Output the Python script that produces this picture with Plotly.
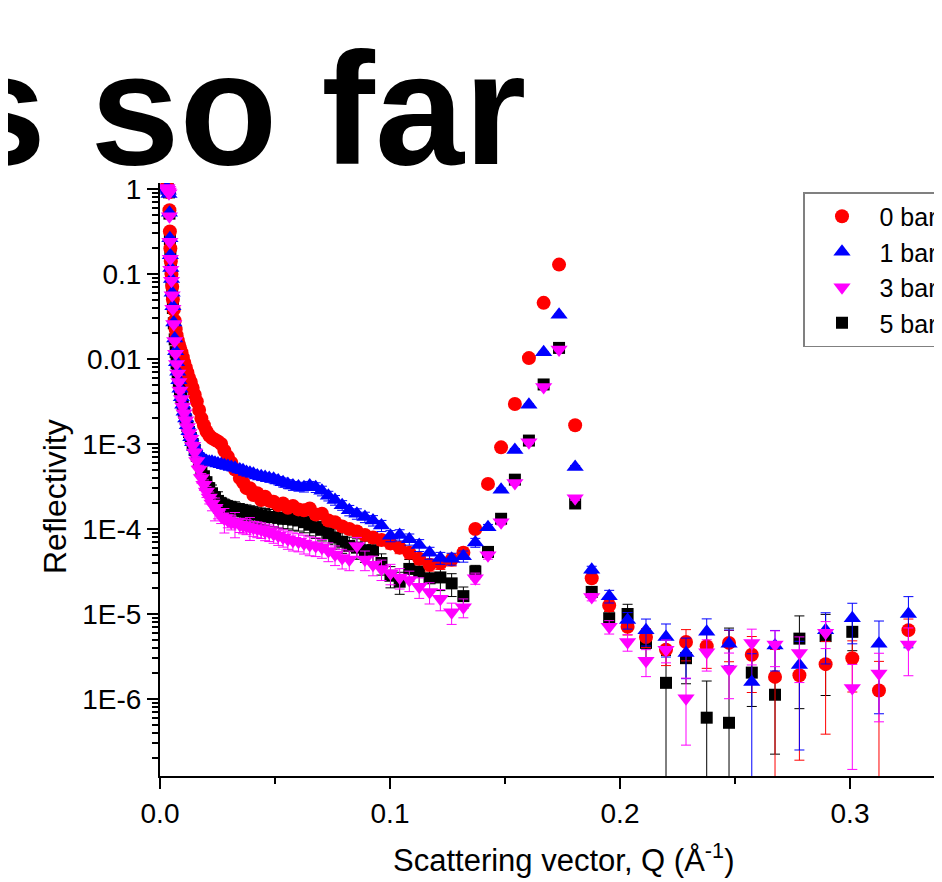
import numpy as np
import plotly.graph_objects as go

# Scattering vector Q (1/Angstrom), shared by all series
q = [0.0030, 0.0033, 0.0036, 0.0039, 0.0041, 0.0043, 0.0045, 0.0047, 0.0050, 0.0053,
     0.0056, 0.0060, 0.0064, 0.0068, 0.0072, 0.0077, 0.0082, 0.0087, 0.0093, 0.0099,
     0.0105, 0.0112, 0.0119, 0.0126, 0.0134, 0.0142, 0.0151, 0.0160, 0.0170, 0.0180,
     0.0191, 0.0202, 0.0214, 0.0226, 0.0239, 0.0252, 0.0266, 0.0280, 0.0295, 0.0310,
     0.0326, 0.0347, 0.0361, 0.0376, 0.0391, 0.0406, 0.0423, 0.0440, 0.0457, 0.0475,
     0.0494, 0.0514, 0.0535, 0.0556, 0.0578, 0.0602, 0.0626, 0.0651, 0.0677, 0.0704,
     0.0732, 0.0761, 0.0792, 0.0823, 0.0856, 0.0891, 0.0926, 0.0963, 0.1002, 0.1042,
     0.1084, 0.1127, 0.1172, 0.1219, 0.1268, 0.1319, 0.1371, 0.1426, 0.1483, 0.1543,
     0.1604, 0.1668, 0.1735, 0.1805, 0.1877, 0.1953, 0.2033, 0.2113, 0.2200, 0.2287,
     0.2377, 0.2474, 0.2573, 0.2674, 0.2780, 0.2894, 0.3010, 0.3126, 0.3254]

# log10(Reflectivity)
log_r_0bar = [0.03, 0.01, -0.01, -0.04, -0.25, -0.50, -0.70, -0.85, -1.00, -1.15,
              -1.30, -1.42, -1.55, -1.65, -1.72, -1.78, -1.83, -1.87, -1.92, -1.98,
              -2.04, -2.10, -2.16, -2.22, -2.27, -2.34, -2.42, -2.50, -2.60, -2.70,
              -2.78, -2.85, -2.90, -2.93, -2.95, -2.97, -3.00, -3.08, -3.15, -3.22,
              -3.30, -3.40, -3.45, -3.52, -3.52, -3.60, -3.58, -3.66, -3.62, -3.67,
              -3.68, -3.72, -3.70, -3.75, -3.73, -3.77, -3.78, -3.76, -3.83, -3.82,
              -3.90, -3.92, -3.97, -4.00, -4.03, -4.07, -4.10, -4.13, -4.17, -4.22,
              -4.28, -4.35, -4.42, -4.40, -4.36, -4.28, -4.00, -3.47, -3.04, -2.53,
              -1.99, -1.34, -0.89, -2.78, -4.58, -4.90, -5.15, -5.27, -5.42, -5.33,
              -5.38, -5.34, -5.48, -5.74, -5.72, -5.59, -5.52, -5.90, -5.19]
log_r_1bar = [0.02, 0.00, -0.02, -0.06, -0.28, -0.58, -0.78, -0.93, -1.06, -1.22,
              -1.38, -1.57, -1.76, -1.91, -2.04, -2.15, -2.25, -2.35, -2.45, -2.54,
              -2.62, -2.70, -2.78, -2.85, -2.92, -2.98, -3.04, -3.09, -3.13, -3.16,
              -3.18, -3.20, -3.21, -3.21, -3.22, -3.23, -3.24, -3.25, -3.26, -3.27,
              -3.28, -3.30, -3.31, -3.33, -3.34, -3.35, -3.37, -3.38, -3.39, -3.40,
              -3.41, -3.43, -3.45, -3.47, -3.49, -3.50, -3.51, -3.49, -3.51, -3.55,
              -3.61, -3.66, -3.72, -3.78, -3.82, -3.86, -3.90, -3.96, -4.08, -4.07,
              -4.12, -4.19, -4.28, -4.34, -4.35, -4.32, -4.16, -3.98, -3.54, -3.07,
              -2.54, -1.92, -1.48, -3.27, -4.48, -4.79, -5.07, -5.19, -5.27, -5.46,
              -5.21, -5.35, -5.80, -5.37, -5.60, -5.19, -5.05, -5.35, -5.00]
log_r_3bar = [0.01, -0.01, -0.03, -0.05, -0.32, -0.62, -0.82, -0.95, -1.08, -1.25,
              -1.41, -1.59, -1.79, -1.94, -2.06, -2.17, -2.27, -2.37, -2.47, -2.56,
              -2.64, -2.72, -2.80, -2.87, -2.94, -3.02, -3.10, -3.20, -3.30, -3.40,
              -3.48, -3.56, -3.63, -3.70, -3.75, -3.80, -3.85, -3.88, -3.90, -3.92,
              -3.93, -3.95, -3.96, -3.97, -3.98, -3.99, -4.00, -4.01, -4.03, -4.04,
              -4.06, -4.08, -4.10, -4.12, -4.14, -4.15, -4.17, -4.19, -4.20, -4.22,
              -4.26, -4.30, -4.34, -4.36, -4.20, -4.36, -4.42, -4.47, -4.52, -4.57,
              -4.60, -4.68, -4.74, -4.82, -4.98, -4.92, -4.58, -4.31, -3.92, -3.46,
              -2.98, -2.33, -1.89, -3.64, -4.80, -5.15, -5.33, -5.55, -5.42, -5.99,
              -5.45, -5.65, -5.34, -5.36, -5.46, -5.22, -5.87, -5.70, -5.36]
log_r_5bar = [0.02, 0.00, -0.02, -0.04, -0.29, -0.59, -0.79, -0.94, -1.07, -1.23,
              -1.40, -1.58, -1.77, -1.92, -2.05, -2.16, -2.26, -2.36, -2.46, -2.55,
              -2.63, -2.71, -2.79, -2.86, -2.93, -3.00, -3.07, -3.14, -3.22, -3.30,
              -3.38, -3.45, -3.52, -3.58, -3.63, -3.67, -3.70, -3.72, -3.74, -3.75,
              -3.76, -3.78, -3.79, -3.80, -3.81, -3.82, -3.83, -3.84, -3.85, -3.86,
              -3.86, -3.87, -3.88, -3.88, -3.89, -3.90, -3.92, -3.95, -3.98, -4.01,
              -4.05, -4.10, -4.15, -4.20, -4.22, -4.25, -4.25, -4.40, -4.55, -4.62,
              -4.47, -4.50, -4.58, -4.57, -4.64, -4.79, -4.50, -4.27, -3.88, -3.42,
              -2.96, -2.30, -1.87, -3.70, -4.74, -5.05, -5.00, -5.34, -5.81, -5.52,
              -6.22, -6.28, -5.69, -5.95, -5.29, -5.26, -5.21, None, None]

# relative errors (fraction of R)
rel_err_0bar = [0.03, 0.03, 0.03, 0.03, 0.03, 0.03, 0.03, 0.03, 0.03, 0.03,
                0.03, 0.03, 0.03, 0.03, 0.04, 0.04, 0.04, 0.04, 0.04, 0.04,
                0.04, 0.04, 0.05, 0.05, 0.05, 0.05, 0.05, 0.05, 0.05, 0.06,
                0.06, 0.06, 0.06, 0.06, 0.06, 0.07, 0.07, 0.07, 0.08, 0.08,
                0.08, 0.08, 0.09, 0.09, 0.10, 0.10, 0.10, 0.10, 0.10, 0.10,
                0.10, 0.10, 0.10, 0.11, 0.11, 0.11, 0.11, 0.12, 0.12, 0.12,
                0.12, 0.12, 0.12, 0.13, 0.13, 0.13, 0.14, 0.14, 0.14, 0.15,
                0.15, 0.15, 0.16, 0.16, 0.16, 0.15, 0.10, 0.06, 0.04, 0.03,
                0.03, 0.02, 0.02, 0.03, 0.10, 0.15, 0.20, 0.25, 0.35, 0.40,
                0.45, 0.40, 0.64, 1.10, 0.90, 0.85, 0.60, 1.20, 0.35]
rel_err_1bar = [0.03, 0.03, 0.03, 0.03, 0.03, 0.03, 0.03, 0.03, 0.03, 0.03,
                0.03, 0.03, 0.03, 0.03, 0.04, 0.04, 0.04, 0.04, 0.04, 0.04,
                0.05, 0.05, 0.05, 0.05, 0.06, 0.06, 0.06, 0.06, 0.07, 0.07,
                0.07, 0.07, 0.08, 0.08, 0.08, 0.08, 0.09, 0.09, 0.09, 0.09,
                0.10, 0.10, 0.10, 0.10, 0.10, 0.10, 0.11, 0.11, 0.11, 0.11,
                0.11, 0.11, 0.12, 0.12, 0.12, 0.12, 0.12, 0.12, 0.13, 0.13,
                0.13, 0.13, 0.13, 0.14, 0.14, 0.14, 0.14, 0.15, 0.15, 0.15,
                0.15, 0.16, 0.16, 0.16, 0.16, 0.15, 0.12, 0.08, 0.05, 0.04,
                0.03, 0.02, 0.02, 0.04, 0.10, 0.17, 0.22, 0.35, 0.42, 0.50,
                0.42, 0.45, 1.15, 0.50, 0.90, 0.60, 0.50, 0.85, 0.60]
rel_err_3bar = [0.03, 0.03, 0.03, 0.03, 0.03, 0.03, 0.03, 0.03, 0.03, 0.04,
                0.04, 0.04, 0.04, 0.05, 0.05, 0.05, 0.05, 0.06, 0.06, 0.06,
                0.07, 0.07, 0.08, 0.08, 0.09, 0.10, 0.10, 0.11, 0.12, 0.13,
                0.14, 0.15, 0.16, 0.18, 0.30, 0.17, 0.18, 0.32, 0.18, 0.19,
                0.33, 0.19, 0.20, 0.20, 0.30, 0.20, 0.21, 0.21, 0.22, 0.22,
                0.22, 0.23, 0.23, 0.24, 0.24, 0.24, 0.25, 0.25, 0.25, 0.25,
                0.25, 0.26, 0.26, 0.26, 0.26, 0.26, 0.26, 0.27, 0.27, 0.27,
                0.27, 0.27, 0.28, 0.28, 0.28, 0.25, 0.15, 0.10, 0.07, 0.05,
                0.04, 0.03, 0.03, 0.05, 0.10, 0.18, 0.22, 0.35, 0.30, 0.72,
                0.40, 0.55, 0.45, 0.45, 0.55, 0.35, 0.89, 0.73, 0.57]
rel_err_5bar = [0.03, 0.03, 0.03, 0.03, 0.03, 0.03, 0.03, 0.03, 0.03, 0.04,
                0.04, 0.04, 0.04, 0.05, 0.05, 0.05, 0.05, 0.06, 0.06, 0.06,
                0.07, 0.07, 0.08, 0.08, 0.09, 0.10, 0.10, 0.11, 0.12, 0.13,
                0.14, 0.15, 0.16, 0.25, 0.17, 0.28, 0.18, 0.18, 0.19, 0.19,
                0.20, 0.20, 0.20, 0.21, 0.21, 0.22, 0.22, 0.22, 0.23, 0.23,
                0.23, 0.24, 0.24, 0.24, 0.25, 0.25, 0.25, 0.26, 0.26, 0.26,
                0.26, 0.27, 0.27, 0.27, 0.27, 0.28, 0.28, 0.28, 0.28, 0.29,
                0.29, 0.29, 0.30, 0.30, 0.30, 0.28, 0.18, 0.10, 0.07, 0.05,
                0.04, 0.03, 0.03, 0.05, 0.10, 0.20, 0.30, 0.35, 1.10, 0.50,
                1.70, 12.0, 0.60, 0.80, 0.85, 0.80, 0.40, None, None]

series_names = ["0 bar", "1 bar", "3 bar", "5 bar"]
y_tick_vals = [1, 0.1, 0.01, 1e-3, 1e-4, 1e-5, 1e-6]
y_tick_text = ["1", "0.1", "0.01", "1E-3", "1E-4", "1E-5", "1E-6"]
x_tick_vals = [0.0, 0.1, 0.2, 0.3]
x_tick_text = ["0.0", "0.1", "0.2", "0.3"]

FONT = "Arial, Liberation Sans, sans-serif"

# page body has an 8px margin: figure occupies screen px 8..942, 8..882
OFF = 8
W, H = 942 - OFF, 882 - OFF
PLOT_L, PLOT_R, PLOT_T, PLOT_B = 160, 942, 183, 776   # screen px of plot area
PW, PH = PLOT_R - PLOT_L, PLOT_B - PLOT_T


def px_x(px):
    return (px - PLOT_L) / PW


def px_y(py):
    return 1 - (py - PLOT_T) / PH


def to_r(logs):
    return [None if v is None else 10 ** v for v in logs]


def to_err(logs, rel):
    return [None if (v is None or e is None) else 10 ** v * e for v, e in zip(logs, rel)]


styles = {
    "0 bar": dict(symbol="circle", color="#FF0000", size=14, logs=log_r_0bar, rel=rel_err_0bar, rank=1),
    "1 bar": dict(symbol="triangle-up", color="#0000FF", size=15, logs=log_r_1bar, rel=rel_err_1bar, rank=2),
    "3 bar": dict(symbol="triangle-down", color="#FF00FF", size=15, logs=log_r_3bar, rel=rel_err_3bar, rank=3),
    "5 bar": dict(symbol="square", color="#000000", size=12, logs=log_r_5bar, rel=rel_err_5bar, rank=4),
}

fig = go.Figure()
# draw order: 5 bar at bottom, 3 bar on top
for name in ["5 bar", "0 bar", "1 bar", "3 bar"]:
    s = styles[name]
    fig.add_trace(go.Scatter(
        x=q, y=to_r(s["logs"]), name=name, mode="markers", legendrank=s["rank"],
        marker=dict(symbol=s["symbol"], color=s["color"], size=s["size"], line=dict(width=0)),
        error_y=dict(type="data", array=to_err(s["logs"], s["rel"]), symmetric=True,
                     color=s["color"], thickness=1, width=5),
    ))

minor_y = [m * 10.0 ** e for e in range(-7, 1) for m in range(2, 10)]

fig.update_layout(
    width=W, height=H,
    margin=dict(l=PLOT_L - OFF, r=0, t=PLOT_T - OFF, b=H - (PLOT_B - OFF), autoexpand=False),
    paper_bgcolor="white", plot_bgcolor="white",
    font=dict(family=FONT, color="black", size=25),
    showlegend=True,
    legend=dict(x=px_x(803), xanchor="left", y=px_y(192), yanchor="top",
                bordercolor="#808080", borderwidth=1.5, bgcolor="white",
                font=dict(family=FONT, size=25, color="black"),
                itemwidth=65, tracegroupgap=0),
    xaxis=dict(range=[0, 0.34], showgrid=False, zeroline=False,
               showline=True, linecolor="black", linewidth=2,
               tickmode="array", tickvals=x_tick_vals, ticktext=x_tick_text,
               ticks="outside", ticklen=11, tickwidth=2, tickcolor="black",
               tickfont=dict(family=FONT, size=28, color="black"),
               minor=dict(tickmode="array", tickvals=[0.05, 0.15, 0.25],
                          ticks="outside", ticklen=6, tickwidth=2, tickcolor="black")),
    yaxis=dict(type="log", range=[-6.906, 0.07], showgrid=False, zeroline=False,
               showline=True, linecolor="black", linewidth=2,
               tickmode="array", tickvals=y_tick_vals, ticktext=y_tick_text,
               ticks="outside", ticklen=11, tickwidth=2, tickcolor="black",
               tickfont=dict(family=FONT, size=28, color="black"),
               minor=dict(tickmode="array", tickvals=minor_y,
                          ticks="outside", ticklen=6, tickwidth=1.5, tickcolor="black")),
    annotations=[
        dict(text="<b>s so far</b>", xref="paper", yref="paper",
             x=px_x(-45), xanchor="left", y=px_y(108), yanchor="middle",
             showarrow=False, font=dict(family=FONT, size=160, color="black")),
        dict(text="Scattering vector, Q (Å<sup>-1</sup>)", xref="paper", yref="paper",
             x=px_x(563), xanchor="center", y=px_y(858), yanchor="middle",
             showarrow=False, font=dict(family=FONT, size=31, color="black")),
        dict(text="Reflectivity", xref="paper", yref="paper", textangle=-90,
             x=px_x(55), xanchor="center", y=px_y(497), yanchor="middle",
             showarrow=False, font=dict(family=FONT, size=32, color="black")),
    ],
)

fig.write_html("out.html")
